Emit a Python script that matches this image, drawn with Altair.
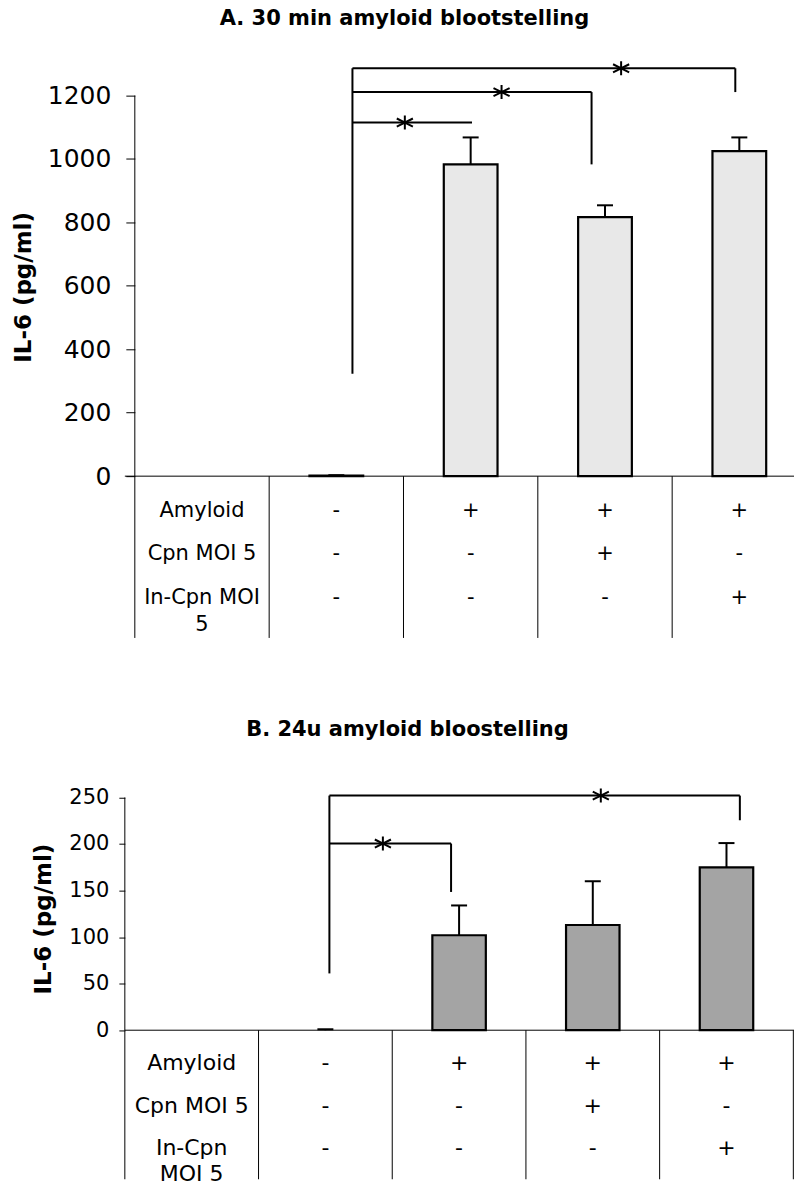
import altair as alt
import pandas as pd

# ---------------- data ----------------
treat_cols = [1, 2, 3, 4]          # columns of the treatment groups (column 0 holds the row labels)
a_mean = [2, 983, 817, 1025]
a_err = [1, 85, 37, 43]
b_mean = [0, 102, 113, 175]
b_err = [1, 32, 47, 26]

a_ticks = [0, 200, 400, 600, 800, 1000, 1200]
b_ticks = [0, 50, 100, 150, 200, 250]

table_rows = [0, 1, 2]
a_row_labels = ["Amyloid", "Cpn MOI 5", "In-Cpn MOI\n5"]
b_row_labels = ["Amyloid", "Cpn MOI 5", "In-Cpn\nMOI 5"]
amyloid_signs = ["-", "+", "+", "+"]
cpn_signs = ["-", "-", "+", "-"]
incpn_signs = ["-", "-", "-", "+"]
a_col_bounds = [0, 1, 2, 3, 4]
b_col_bounds = [0, 1, 2, 3, 4, 5]

# significance brackets (x in column units, y in pg/ml)
a_sig_start = 1.62
a_sig_base = 323
a_sig_end = [2.51, 3.40, 4.47]
a_sig_level = [1115, 1211, 1286]
a_sig_drop = [1115, 983, 1211]
a_sig_star = [2.01, 2.73, 3.62]

b_sig_start = 1.53
b_sig_base = 61
b_sig_end = [2.44, 4.60]
b_sig_level = [200.5, 252]
b_sig_drop = [148.5, 225.5]
b_sig_star = [1.93, 3.56]

FONT = "DejaVu Sans"
ASTERISK = "M0,-0.87L0,0.87M-1,-0.5L1,0.5M-1,0.5L1,-0.5"


def make_panel(title, title_dx, title_offset, mean, err, ticks,
               sig_start, sig_base, sig_end, sig_level, sig_drop, sig_star,
               labels, col_bounds, xdom, ydom, panel_h, fill,
               tick_size, label_size, label_pad, axis_offset, title_x, title_y,
               tdom, text_size, line_h):
    xs = alt.Scale(domain=xdom, nice=False, zero=False)
    ys = alt.Scale(domain=ydom, nice=False, zero=False)
    yaxis = alt.Axis(values=ticks, format="d", domain=False, grid=False, tickSize=tick_size,
                     tickColor="black", tickWidth=1,
                     labelFont=FONT, labelFontSize=label_size, labelColor="black",
                     labelPadding=label_pad, offset=axis_offset,
                     title="IL-6 (pg/ml)", titleFont=FONT, titleFontSize=23,
                     titleFontWeight="bold", titleColor="black",
                     titleX=title_x, titleY=title_y, titleAngle=-90,
                     titleAlign="center", titleBaseline="bottom")

    def Y(field):
        return alt.Y(field, type="quantitative", scale=ys, axis=yaxis)

    def X(field):
        return alt.X(field, type="quantitative", scale=xs, axis=None)

    bar_df = pd.DataFrame({"col": treat_cols, "mean": mean, "err": err})
    base = alt.Chart(bar_df).transform_calculate(
        left="datum.col + 0.3", right="datum.col + 0.7",
        mid="datum.col + 0.5", top="datum.mean + datum.err", zero="0")

    bars = base.transform_filter("datum.mean > 0").mark_bar(
        fill=fill, stroke="black", strokeWidth=2.2).encode(
        x=X("left"), x2="right:Q", y=Y("mean"), y2="zero:Q")

    stems = base.mark_rule(color="black", strokeWidth=2).encode(
        x=X("mid"), y=Y("mean"), y2="top:Q")

    caps = base.mark_tick(orient="horizontal", size=16, thickness=2,
                          color="black", opacity=1).encode(
        x=X("mid"), y=Y("top"))

    # y-axis line (up to the top tick) and the column lines of the table below the plot
    yline = alt.Chart(pd.DataFrame({"x": [0], "y0": [ticks[0]], "y1": [ticks[-1]]})).mark_rule(
        color="black", strokeWidth=1).encode(x=X("x"), y=Y("y0"), y2="y1:Q")

    vlines = alt.Chart(pd.DataFrame({"b": col_bounds, "y0": 0, "y1": ydom[0]})).mark_rule(
        color="black", strokeWidth=1).encode(x=X("b"), y=Y("y0"), y2="y1:Q")

    xline = alt.Chart(pd.DataFrame({"y": [0]})).mark_rule(
        color="black", strokeWidth=1).encode(y=Y("y"))

    sx, sx2, sy, sy2 = [sig_start], [sig_start], [sig_base], [max(sig_level)]
    for e, lv, d in zip(sig_end, sig_level, sig_drop):
        sx += [sig_start, e]
        sx2 += [e, e]
        sy += [lv, lv]
        sy2 += [lv, d]
    seg_df = pd.DataFrame({"x": sx, "x2": sx2, "y": sy, "y2": sy2})
    brackets = alt.Chart(seg_df).mark_rule(color="black", strokeWidth=2).encode(
        x=X("x"), x2="x2:Q", y=Y("y"), y2="y2:Q")

    stars = alt.Chart(pd.DataFrame({"x": sig_star, "y": sig_level})).mark_point(
        shape=ASTERISK, size=260, filled=False, color="black",
        strokeWidth=2, opacity=1).encode(x=X("x"), y=Y("y"))

    plot = alt.layer(bars, stems, caps, yline, vlines, xline, brackets, stars)

    tx, ty, tt = [], [], []
    for r, lab, sg in zip(table_rows, labels, [amyloid_signs, cpn_signs, incpn_signs]):
        tx.append(0.5)
        ty.append(r)
        tt.append(lab)
        for c, s in zip(treat_cols, sg):
            tx.append(c + 0.5)
            ty.append(r)
            tt.append(s)
    text_df = pd.DataFrame({"x": tx, "row": ty, "text": tt})
    texts = alt.Chart(text_df).mark_text(
        font=FONT, fontSize=text_size, baseline="top", align="center",
        lineBreak="\n", lineHeight=line_h, color="black").encode(
        x=X("x"),
        y=alt.Y("row:Q", scale=alt.Scale(domain=tdom, reverse=True, nice=False, zero=False),
                axis=None),
        text="text:N")

    return alt.layer(plot, texts).resolve_scale(y="independent").properties(
        width=670, height=panel_h,
        title=alt.TitleParams(text=title, font=FONT, fontSize=21, fontWeight="bold",
                              color="black", anchor="middle", frame="group",
                              dx=title_dx, offset=title_offset, baseline="alphabetic"))


panel_a = make_panel(
    "A. 30 min amyloid blootstelling", -55, 11, a_mean, a_err, a_ticks,
    a_sig_start, a_sig_base, a_sig_end, a_sig_level, a_sig_drop, a_sig_star,
    a_row_labels, a_col_bounds, [-0.0743, 4.907], [-510.1, 1310], 578, "#e8e8e8",
    9, 25, 15, -10, -99, 226.5, [-10.106, 3.182], 21, 27)

panel_b = make_panel(
    "B. 24u amyloid bloostelling", -52, 23, b_mean, b_err, b_ticks,
    b_sig_start, b_sig_base, b_sig_end, b_sig_level, b_sig_drop, b_sig_star,
    b_row_labels, b_col_bounds, [0, 5.005], [-160.1, 269], 400, "#a4a4a4",
    6, 21, 10, 0, -69, 139, [-6.448, 2.963], 22, 26)

chart = alt.vconcat(panel_a, panel_b, spacing=142, bounds="flush").properties(
    padding={"left": 13, "top": 7, "right": 0, "bottom": 0},
    background="white",
).configure_view(strokeWidth=0)

chart.save("out.html", embed_options={"renderer": "svg", "actions": False})
